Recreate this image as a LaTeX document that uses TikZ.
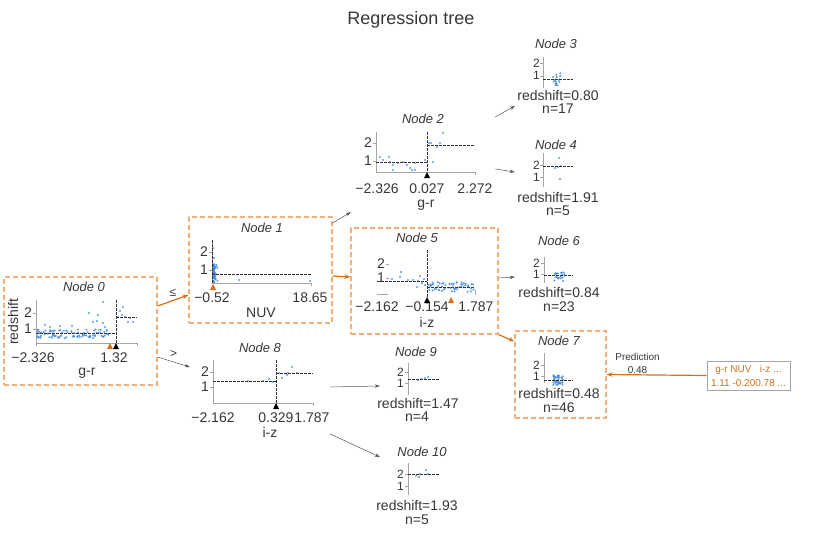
\documentclass[tikz,border=0pt]{standalone}
\usepackage{fontspec}
\setmainfont{Liberation Sans}
\usepackage{tikz}
\usetikzlibrary{arrows.meta}
\definecolor{hot}{RGB}{214,112,24}
\definecolor{boxline}{RGB}{245,176,122}
\definecolor{txt}{RGB}{55,55,55}
\definecolor{axisgrey}{RGB}{165,165,165}
\definecolor{dots}{RGB}{66,136,224}
\definecolor{wire}{RGB}{85,85,85}
\tikzset{
  treebox/.style={rectangle, inner sep=0pt},
  hotbox/.style={treebox, draw=boxline, line width=1.1pt, dash pattern=on 5pt off 3pt},
  nodetitle/.style={font=\itshape\fontsize{13}{13}\selectfont, text=txt, inner sep=0pt},
  lbl/.style={font=\fontsize{14}{14}\selectfont, text=txt, inner sep=0pt},
  leaflbl/.style={font=\fontsize{12}{12}\selectfont, text=txt, inner sep=0pt},
  small/.style={font=\fontsize{10}{13}\selectfont, text=txt, inner sep=0pt, align=center},
  axisline/.style={draw=axisgrey, line width=0.6pt},
  meanline/.style={draw=black!80, line width=0.7pt, dash pattern=on 2.5pt off 1.5pt},
  dot/.style={fill=dots, fill opacity=0.85},
  fwd/.style={-{Stealth[length=5pt,width=3.5pt]}, draw=wire, line width=0.5pt},
  hotfwd/.style={-{Stealth[length=6pt,width=4.5pt]}, draw=hot, line width=1.2pt},
}
\newcommand{\splittri}[3][black]{\fill[#1] (#2-3,#3+6) -- (#2,#3) -- (#2+3,#3+6) -- cycle;}

\begin{document}
\begin{tikzpicture}[x=1pt,y=-1pt]
\useasboundingbox (0,0) rectangle (830,533);
\pgfmathsetseed{11}

\node[font=\fontsize{18}{18}\selectfont, text=txt] (title) at (411,20) {Regression tree};

%Nodes
\node[hotbox, minimum width=153pt, minimum height=108pt] (n0) at (80.5,331) {};
\node[hotbox, minimum width=143pt, minimum height=106pt] (n1) at (260.5,270) {};
\node[treebox, minimum width=144pt, minimum height=102pt] (n2) at (423,161) {};
\node[treebox, minimum width=86pt, minimum height=80pt] (n3) at (558,75) {};
\node[treebox, minimum width=86pt, minimum height=82pt] (n4) at (558,177) {};
\node[hotbox, minimum width=147pt, minimum height=106pt] (n5) at (424.5,281) {};
\node[treebox, minimum width=86pt, minimum height=82pt] (n6) at (558,273) {};
\node[hotbox, minimum width=91pt, minimum height=87pt] (n7) at (560.5,374.5) {};
\node[treebox, minimum width=140pt, minimum height=100pt] (n8) at (260,390) {};
\node[treebox, minimum width=76pt, minimum height=82pt] (n9) at (418,384) {};
\node[treebox, minimum width=76pt, minimum height=84pt] (n10) at (418,485) {};
\node[draw=axisgrey, line width=0.8pt, minimum width=83pt, minimum height=29pt, inner sep=0pt,
      font=\fontsize{10}{14}\selectfont, text=hot, align=center] (pred) at (748.5,375.5)
      {g-r NUV\ \ \ i-z ...\\1.11 -0.200.78 ...};

%Node 0
\node[nodetitle] at (84,287) {Node 0};
\draw[axisline] (36,300) -- (36,343) -- (137,343);
\draw[axisline] (33,313) -- (36,313) (33,329) -- (36,329) (36,343) -- (36,346) (137,343) -- (137,346);
\node[lbl, anchor=east] at (32,313) {2};
\node[lbl, anchor=east] at (32,329) {1};
\node[lbl] at (33,358) {−2.326};
\node[lbl] at (114,358) {1.32};
\node[lbl] at (87,373) {g-r};
\node[lbl, rotate=90] at (13,322) {redshift};
\foreach \i in {1,...,90} {\fill[dot] ({37+72*rnd},{334+4.5*rand}) circle (1.1);}
\foreach \p in {(103,302),(89,313),(98,315),(97,321),(103,323),(105,327),(107,330),(93,322),(45,325),(50,327),(60,326),(72,326)} {\fill[dot] \p circle (1.1);}
\foreach \p in {(123,307),(118,317),(122,315),(125,317),(128,322),(133,322),(120,311),(130,318)} {\fill[dot] \p circle (1.1);}
\draw[meanline] (116,300) -- (116,343);
\draw[meanline] (36,333) -- (116,333);
\draw[meanline] (116,317) -- (137,317);
\splittri[hot]{110}{343}
\splittri{116}{343}

%Node 1
\node[nodetitle] at (262,228) {Node 1};
\draw[axisline] (212,240) -- (212,283) -- (311,283);
\draw[axisline] (209,252) -- (212,252) (209,270) -- (212,270) (311,283) -- (311,286);
\node[lbl, anchor=east] at (208,252) {2};
\node[lbl, anchor=east] at (208,270) {1};
\node[lbl] at (212,298) {−0.52};
\node[lbl] at (310,298) {18.65};
\node[lbl] at (261,313) {NUV};
\foreach \i in {1,...,60} {\fill[dot] ({213+5*rnd*rnd},{264+18*rnd}) circle (1.1);}
\foreach \p in {(239,280),(310,281),(213,248),(214,258)} {\fill[dot] \p circle (1.1);}
\draw[meanline] (212,240) -- (212,283);
\draw[meanline] (212,274) -- (311,274);
\splittri[hot]{213}{284}

%Node 2
\node[nodetitle] at (423,119) {Node 2};
\draw[axisline] (376,132) -- (376,172) -- (475,172);
\draw[axisline] (373,143) -- (376,143) (373,161) -- (376,161) (475,172) -- (475,175);
\node[lbl, anchor=east] at (372,143) {2};
\node[lbl, anchor=east] at (372,161) {1};
\node[lbl] at (377,189) {−2.326};
\node[lbl] at (427,189) {0.027};
\node[lbl] at (475,189) {2.272};
\node[lbl] at (426,205) {g-r};
\foreach \p in {(380,157),(383,160),(389,157),(390,162),(393,165),(393,170),(403,162),(407,165),(410,168),(412,170),(415,163),(415,170),(425,160),(398,163),(429,143),(433,162),(437,147),(440,143),(443,133),(431,143)} {\fill[dot] \p circle (1.1);}
\draw[meanline] (427,132) -- (427,172);
\draw[meanline] (376,162) -- (427,162);
\draw[meanline] (427,145) -- (475,145);
\splittri{427}{172}

%Node 3
\node[nodetitle] at (556,44) {Node 3};
\draw[axisline] (543,57) -- (543,88) (540,63) -- (543,63) (540,76) -- (543,76);
\node[leaflbl, anchor=east] at (540,63) {2};
\node[leaflbl, anchor=east] at (540,75) {1};
\foreach \i in {1,...,17} {\fill[dot] ({558+5*rand},{80+7*rand}) circle (1.1);}
\draw[meanline] (543,79) -- (573,79);
\node[lbl] at (558,95) {redshift=0.80};
\node[lbl] at (558,109) {n=17};

%Node 4
\node[nodetitle] at (556,145) {Node 4};
\draw[axisline] (543,153) -- (543,187) (540,165) -- (543,165) (540,177) -- (543,177);
\node[leaflbl, anchor=east] at (540,165) {2};
\node[leaflbl, anchor=east] at (540,177) {1};
\foreach \p in {(559,158),(555,168),(558,167),(561,166),(560,179)} {\fill[dot] \p circle (1.1);}
\draw[meanline] (543,166) -- (573,166);
\node[lbl] at (558,197) {redshift=1.91};
\node[lbl] at (558,211) {n=5};

%Node 5
\node[nodetitle] at (417,238) {Node 5};
\draw[axisline] (377,294) -- (388,294) (386,264) -- (389,264) (386,278) -- (389,278) (475,290) -- (475,295);
\node[lbl, anchor=east] at (385,264) {2};
\node[lbl, anchor=east] at (385,278) {1};
\node[lbl] at (377,307) {−2.162};
\node[lbl] at (427,307) {−0.154};
\node[lbl] at (476,307) {1.787};
\node[lbl] at (427,322) {i-z};
\foreach \p in {(401,272),(400,277),(392,279),(408,280),(413,280),(417,287),(420,276),(422,283),(424,279),(418,281),(425,285)} {\fill[dot] \p circle (1.1);}
\foreach \i in {1,...,55} {\fill[dot] ({428+46*rnd},{287+5*rand}) circle (1.1);}
\draw[meanline] (427,250) -- (427,297);
\draw[meanline] (377,281) -- (427,281);
\draw[meanline] (427,287) -- (475,287);
\splittri{427}{297}
\splittri[hot]{451}{297}

%Node 6
\node[nodetitle] at (559,241) {Node 6};
\draw[axisline] (544,257) -- (544,283) (541,263) -- (544,263) (541,274) -- (544,274);
\node[leaflbl, anchor=east] at (540,263) {2};
\node[leaflbl, anchor=east] at (540,274) {1};
\foreach \i in {1,...,23} {\fill[dot] ({559+6*rand},{276+5*rand}) circle (1.1);}
\draw[meanline] (544,275) -- (573,275);
\node[lbl] at (559,292) {redshift=0.84};
\node[lbl] at (559,307) {n=23};

%Node 7
\node[nodetitle] at (559,341) {Node 7};
\draw[axisline] (544,353) -- (544,383) (541,365) -- (544,365) (541,376) -- (544,376);
\node[leaflbl, anchor=east] at (540,365) {2};
\node[leaflbl, anchor=east] at (540,376) {1};
\foreach \i in {1,...,46} {\fill[dot] ({558+5*rand},{380+5*rand}) circle (1.1);}
\draw[meanline] (544,380) -- (573,380);
\node[lbl] at (559,393) {redshift=0.48};
\node[lbl] at (559,408) {n=46};

%Node 8
\node[nodetitle] at (260,348) {Node 8};
\draw[axisline] (213,360) -- (213,403) -- (313,403);
\draw[axisline] (210,372) -- (213,372) (210,387) -- (213,387) (313,403) -- (313,406);
\node[lbl, anchor=east] at (209,372) {2};
\node[lbl, anchor=east] at (209,387) {1};
\node[lbl] at (213,418) {−2.162};
\node[lbl] at (276,418) {0.329};
\node[lbl] at (312,418) {1.787};
\node[lbl] at (270,432) {i-z};
\foreach \p in {(248,381),(263,381),(269,379),(273,382),(279,373),(282,378),(287,375),(292,367),(288,373),(297,373)} {\fill[dot] \p circle (1.1);}
\draw[meanline] (276,360) -- (276,403);
\draw[meanline] (213,381) -- (276,381);
\draw[meanline] (276,373) -- (313,373);
\splittri{276}{403}

%Node 9
\node[nodetitle] at (416,352) {Node 9};
\draw[axisline] (408,363) -- (408,395) (405,372) -- (408,372) (405,383) -- (408,383);
\node[leaflbl, anchor=east] at (404,372) {2};
\node[leaflbl, anchor=east] at (404,383) {1};
\foreach \p in {(418,380),(421,379),(425,378),(428,377)} {\fill[dot] \p circle (1.1);}
\draw[meanline] (408,379) -- (440,379);
\node[lbl] at (418,403) {redshift=1.47};
\node[lbl] at (417,417) {n=4};

%Node 10
\node[nodetitle] at (422,452) {Node 10};
\draw[axisline] (408,463) -- (408,495) (405,474) -- (408,474) (405,486) -- (408,486);
\node[leaflbl, anchor=east] at (404,474) {2};
\node[leaflbl, anchor=east] at (404,486) {1};
\foreach \p in {(416,476),(420,474),(426,470),(428,474),(419,477)} {\fill[dot] \p circle (1.1);}
\draw[meanline] (408,474) -- (440,474);
\node[lbl] at (417,505) {redshift=1.93};
\node[lbl] at (417,520) {n=5};

%Lines
\draw[hotfwd] ([yshift=25pt]n0.east) -- ([yshift=-25pt]n1.west) node[midway, above=3pt, lbl, font=\fontsize{12}{12}\selectfont] {≤};
\draw[fwd] ([yshift=-26pt]n0.east) -- ([yshift=23pt]n8.west) node[midway, above=4pt, lbl, font=\fontsize{12}{12}\selectfont] {>};
\draw[fwd] ([yshift=47pt]n1.east) -- (n2.south west);
\draw[hotfwd] ([yshift=-6pt]n1.east) -- ([yshift=4pt]n5.west);
\draw[fwd] ([yshift=44pt]n2.east) -- ([yshift=-31pt]n3.west);
\draw[fwd] ([yshift=-8pt]n2.east) -- ([yshift=5pt]n4.west);
\draw[fwd] ([yshift=3pt]n5.east) -- ([yshift=-4pt]n6.west);
\draw[hotfwd] (n5.south east) -- ([yshift=-11pt]n7.north west);
\draw[fwd] ([yshift=3pt]n8.east) -- ([yshift=-2pt]n9.west);
\draw[fwd] ([yshift=-44pt]n8.east) -- ([yshift=28pt]n10.west);
\draw[hotfwd] (pred.west) -- (n7.east) node[pos=0.69, above=1pt, small] {Prediction\\0.48};
\end{tikzpicture}
\end{document}
